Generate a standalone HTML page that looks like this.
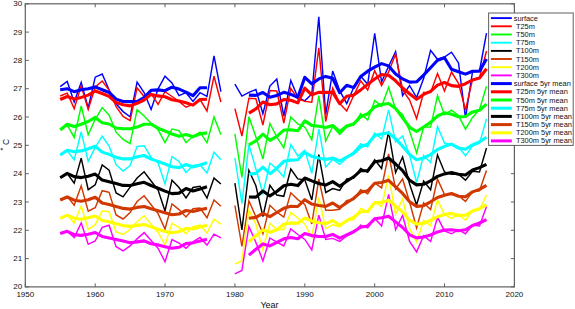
<!DOCTYPE html>
<html><head><meta charset="utf-8"><style>
html,body{margin:0;padding:0;background:#fff;}
svg{display:block;font-family:"Liberation Sans",sans-serif;}
</style></head><body>
<svg width="575" height="309" viewBox="0 0 575 309">
<rect width="575" height="309" fill="#fff"/>
<g>
<polyline points="60.2,86.7 67.2,81.4 74.2,102.0 81.2,82.4 88.2,108.0 95.2,77.2 102.2,74.0 109.1,90.0 116.1,103.8 123.1,111.6 130.1,116.8 137.1,82.2 144.1,92.5 151.1,109.5 158.1,88.8 165.0,76.2 172.0,83.0 179.0,95.6 186.0,92.7 193.0,101.4 200.0,92.7 207.0,96.5 214.0,55.8 220.9,91.7" stroke="#0000ff" stroke-width="1.45" fill="none"/>
<polyline points="234.9,84.1 241.9,96.1 248.9,92.4 255.9,89.5 262.9,113.7 269.9,86.0 276.8,79.0 283.8,116.0 290.8,80.4 297.8,97.3 304.8,100.8 311.8,94.0 318.8,16.8 325.7,114.7 332.7,71.0 339.7,90.7 346.7,103.6 353.7,87.5 360.7,76.3 367.7,84.3 374.7,33.3 381.6,82.0 388.6,66.2 395.6,51.6 402.6,95.5 409.6,85.5 416.6,97.5 423.6,78.6 430.6,50.3 437.5,59.3 444.5,57.0 451.5,52.2 458.5,62.9 465.5,118.0 472.5,72.0 479.5,71.0 486.5,33.2" stroke="#0000ff" stroke-width="1.45" fill="none"/>
<polyline points="60.2,96.0 67.2,93.2 74.2,108.6 81.2,85.9 88.2,109.4 95.2,87.0 102.2,81.0 109.1,90.0 116.1,106.7 123.1,116.4 130.1,120.6 137.1,87.8 144.1,96.5 151.1,93.6 158.1,104.3 165.0,91.7 172.0,96.5 179.0,101.4 186.0,107.2 193.0,104.3 200.0,99.5 207.0,111.0 214.0,76.2 220.9,102.0" stroke="#ff0000" stroke-width="1.45" fill="none"/>
<polyline points="234.9,108.6 241.9,136.0 248.9,98.2 255.9,98.7 262.9,125.0 269.9,90.5 276.8,91.0 283.8,123.0 290.8,88.4 297.8,99.0 304.8,101.4 311.8,102.2 318.8,47.9 325.7,121.5 332.7,88.0 339.7,103.6 346.7,111.0 353.7,95.5 360.7,80.9 367.7,90.0 374.7,70.7 381.6,85.5 388.6,71.9 395.6,54.0 402.6,90.0 409.6,100.0 416.6,118.6 423.6,92.5 430.6,92.5 437.5,73.5 444.5,91.0 451.5,72.0 458.5,83.4 465.5,110.0 472.5,79.5 479.5,77.7 486.5,51.0" stroke="#ff0000" stroke-width="1.45" fill="none"/>
<polyline points="60.2,129.0 67.2,125.0 74.2,137.4 81.2,106.0 88.2,134.7 95.2,119.3 102.2,107.6 109.1,115.2 116.1,132.2 123.1,139.5 130.1,143.6 137.1,109.6 144.1,116.0 151.1,123.3 158.1,129.8 165.0,142.7 172.0,129.0 179.0,130.6 186.0,142.7 193.0,136.3 200.0,132.2 207.0,142.7 214.0,116.9 220.9,134.7" stroke="#00ff00" stroke-width="1.45" fill="none"/>
<polyline points="234.9,133.8 241.9,177.5 248.9,116.7 255.9,137.0 262.9,159.0 269.9,123.5 276.8,137.0 283.8,148.0 290.8,117.0 297.8,124.0 304.8,127.0 311.8,139.7 318.8,95.7 325.7,141.0 332.7,126.5 339.7,134.5 346.7,127.0 353.7,125.0 360.7,113.7 367.7,120.0 374.7,100.5 381.6,106.4 388.6,87.3 395.6,109.0 402.6,114.5 409.6,131.0 416.6,153.0 423.6,127.0 430.6,127.1 437.5,95.7 444.5,114.7 451.5,110.2 458.5,115.6 465.5,129.2 472.5,117.4 479.5,109.4 486.5,86.2" stroke="#00ff00" stroke-width="1.45" fill="none"/>
<polyline points="60.2,155.0 67.2,150.9 74.2,159.8 81.2,131.8 88.2,161.4 95.2,147.7 102.2,136.0 109.1,146.0 116.1,164.7 123.1,171.1 130.1,165.5 137.1,146.5 144.1,145.7 151.1,157.4 158.1,163.0 165.0,184.0 172.0,156.6 179.0,161.4 186.0,172.5 193.0,165.5 200.0,164.7 207.0,173.0 214.0,152.2 220.9,159.8" stroke="#00ffff" stroke-width="1.45" fill="none"/>
<polyline points="234.9,158.0 241.9,203.5 248.9,144.6 255.9,169.0 262.9,193.3 269.9,163.0 276.8,169.0 283.8,176.9 290.8,144.5 297.8,156.0 304.8,150.2 311.8,173.4 318.8,129.0 325.7,167.0 332.7,159.4 339.7,164.3 346.7,158.0 353.7,151.7 360.7,143.9 367.7,146.8 374.7,133.2 381.6,139.0 388.6,109.9 395.6,142.0 402.6,136.0 409.6,155.0 416.6,182.5 423.6,155.5 430.6,162.6 437.5,126.6 444.5,143.1 451.5,144.1 458.5,147.0 465.5,155.8 472.5,146.0 479.5,143.1 486.5,118.9" stroke="#00ffff" stroke-width="1.45" fill="none"/>
<polyline points="60.2,177.5 67.2,173.5 74.2,183.2 81.2,158.1 88.2,189.7 95.2,184.8 102.2,164.9 109.1,170.2 116.1,192.9 123.1,196.9 130.1,187.2 137.1,178.0 144.1,171.8 151.1,181.0 158.1,190.0 165.0,211.0 172.0,180.2 179.0,187.5 186.0,198.0 193.0,187.5 200.0,186.2 207.0,198.0 214.0,178.1 220.9,184.0" stroke="#000000" stroke-width="1.45" fill="none"/>
<polyline points="234.9,183.2 241.9,230.0 248.9,170.5 255.9,185.8 262.9,216.5 269.9,185.3 276.8,195.0 283.8,196.3 290.8,169.0 297.8,178.9 304.8,179.8 311.8,200.0 318.8,154.6 325.7,192.5 332.7,188.6 339.7,190.5 346.7,179.0 353.7,178.0 360.7,168.5 367.7,172.3 374.7,159.7 381.6,168.5 388.6,131.5 395.6,172.5 402.6,157.0 409.6,184.0 416.6,205.0 423.6,181.0 430.6,189.8 437.5,154.9 444.5,172.0 451.5,174.3 458.5,174.3 465.5,180.1 472.5,171.3 479.5,172.0 486.5,148.0" stroke="#000000" stroke-width="1.45" fill="none"/>
<polyline points="60.2,199.6 67.2,196.3 74.2,205.2 81.2,185.8 88.2,211.2 95.2,207.7 102.2,190.7 109.1,192.3 116.1,215.0 123.1,219.0 130.1,212.5 137.1,201.5 144.1,195.8 151.1,204.7 158.1,213.6 165.0,229.0 172.0,203.9 179.0,209.6 186.0,216.9 193.0,208.8 200.0,208.0 207.0,217.7 214.0,199.9 220.9,206.3" stroke="#d03800" stroke-width="1.45" fill="none"/>
<polyline points="234.9,205.5 241.9,246.5 248.9,200.8 255.9,216.8 262.9,233.7 269.9,205.3 276.8,212.0 283.8,217.1 290.8,192.8 297.8,199.6 304.8,204.5 311.8,223.9 318.8,179.0 325.7,210.3 332.7,210.3 339.7,209.3 346.7,200.5 353.7,199.6 360.7,189.8 367.7,193.7 374.7,183.0 381.6,187.9 388.6,153.9 395.6,189.0 402.6,179.0 409.6,202.0 416.6,228.0 423.6,202.8 430.6,209.6 437.5,179.1 444.5,194.6 451.5,194.6 458.5,195.6 465.5,201.4 472.5,191.7 479.5,190.8 486.5,170.4" stroke="#d03800" stroke-width="1.45" fill="none"/>
<polyline points="60.2,218.2 67.2,215.0 74.2,223.0 81.2,206.0 88.2,229.5 95.2,224.7 102.2,210.9 109.1,211.7 116.1,232.0 123.1,234.4 130.1,229.5 137.1,221.7 144.1,215.7 151.1,224.1 158.1,232.2 165.0,245.0 172.0,223.3 179.0,227.4 186.0,233.8 193.0,226.6 200.0,225.0 207.0,233.0 214.0,219.0 220.9,224.1" stroke="#ffff00" stroke-width="1.45" fill="none"/>
<polyline points="234.9,264.0 241.9,261.0 248.9,210.0 255.9,224.2 262.9,250.0 269.9,223.2 276.8,229.5 283.8,229.5 290.8,212.4 297.8,218.0 304.8,223.9 311.8,237.5 318.8,197.6 325.7,228.7 332.7,224.8 339.7,226.8 346.7,220.5 353.7,219.5 360.7,208.5 367.7,211.4 374.7,201.7 381.6,206.5 388.6,175.3 395.6,214.3 402.6,198.7 409.6,228.9 416.6,242.0 423.6,220.2 430.6,226.0 437.5,199.9 444.5,214.4 451.5,218.3 458.5,214.4 465.5,220.2 472.5,210.5 479.5,209.6 486.5,195.0" stroke="#ffff00" stroke-width="1.45" fill="none"/>
<polyline points="60.2,233.0 67.2,231.3 74.2,237.5 81.2,222.9 88.2,244.3 95.2,241.0 102.2,227.3 109.1,225.2 116.1,246.7 123.1,250.8 130.1,245.9 137.1,238.9 144.1,232.6 151.1,240.6 158.1,248.3 165.0,261.8 172.0,239.6 179.0,243.0 186.0,248.3 193.0,241.9 200.0,237.5 207.0,245.1 214.0,234.2 220.9,237.8" stroke="#ff00ff" stroke-width="1.45" fill="none"/>
<polyline points="234.9,273.9 241.9,270.5 248.9,226.5 255.9,242.4 262.9,261.0 269.9,238.0 276.8,242.1 283.8,246.0 290.8,229.0 297.8,234.5 304.8,239.4 311.8,250.0 318.8,215.1 325.7,239.4 332.7,238.4 339.7,241.3 346.7,236.0 353.7,232.7 360.7,225.0 367.7,227.9 374.7,218.2 381.6,225.9 388.6,194.3 395.6,229.8 402.6,215.3 409.6,241.5 416.6,252.0 423.6,235.8 430.6,241.6 437.5,217.3 444.5,230.9 451.5,233.8 458.5,229.9 465.5,233.8 472.5,225.1 479.5,226.0 486.5,206.6" stroke="#ff00ff" stroke-width="1.45" fill="none"/>
<polyline points="60.2,89.8 67.2,88.7 74.2,91.7 81.2,89.7 88.2,88.7 95.2,86.9 102.2,89.8 109.1,92.5 116.1,99.1 123.1,101.5 130.1,101.6 137.1,101.5 144.1,97.5 151.1,90.3 158.1,89.9 165.0,90.7 172.0,87.2 179.0,89.1 186.0,92.1 193.0,95.7 200.0,87.8 207.0,87.7" stroke="#0000ff" stroke-width="3.1" fill="none" stroke-linejoin="round"/>
<polyline points="248.9,95.1 255.9,95.4 262.9,92.5 269.9,97.2 276.8,95.4 283.8,92.3 290.8,94.3 297.8,97.4 304.8,77.3 311.8,83.9 318.8,78.9 325.7,76.4 332.7,78.3 339.7,92.7 346.7,85.2 353.7,87.6 360.7,76.5 367.7,71.2 374.7,67.1 381.6,63.6 388.6,65.9 395.6,73.9 402.6,78.9 409.6,82.1 416.6,81.8 423.6,75.1 430.6,67.8 437.5,60.3 444.5,57.8 451.5,69.3 458.5,71.8 465.5,74.1 472.5,71.3 479.5,71.1 486.5,58.9" stroke="#0000ff" stroke-width="3.1" fill="none" stroke-linejoin="round"/>
<polyline points="60.2,99.5 67.2,96.5 74.2,98.9 81.2,97.4 88.2,95.1 95.2,91.0 102.2,93.5 109.1,96.4 116.1,102.6 123.1,104.8 130.1,105.9 137.1,103.3 144.1,100.0 151.1,94.4 158.1,95.9 165.0,96.8 172.0,99.7 179.0,101.0 186.0,102.8 193.0,105.1 200.0,99.5 207.0,99.2" stroke="#ff0000" stroke-width="3.1" fill="none" stroke-linejoin="round"/>
<polyline points="248.9,113.1 255.9,108.9 262.9,102.0 269.9,104.8 276.8,103.9 283.8,99.5 290.8,100.3 297.8,102.9 304.8,88.2 311.8,94.8 318.8,92.4 325.7,92.3 332.7,92.4 339.7,103.7 346.7,96.2 353.7,95.1 360.7,89.9 367.7,84.4 374.7,79.0 381.6,74.5 388.6,75.3 395.6,80.8 402.6,88.0 409.6,93.8 416.6,99.3 423.6,94.4 430.6,91.4 437.5,85.1 444.5,82.5 451.5,85.6 458.5,86.4 465.5,83.7 472.5,80.0 479.5,78.1 486.5,68.8" stroke="#ff0000" stroke-width="3.1" fill="none" stroke-linejoin="round"/>
<polyline points="60.2,130.0 67.2,124.2 74.2,126.5 81.2,124.2 88.2,121.5 95.2,117.4 102.2,122.8 109.1,124.0 116.1,128.0 123.1,128.7 130.1,128.8 137.1,127.1 144.1,124.2 151.1,124.2 158.1,128.2 165.0,131.0 172.0,134.1 179.0,136.3 186.0,134.5 193.0,136.8 200.0,133.9 207.0,132.9" stroke="#00ff00" stroke-width="3.1" fill="none" stroke-linejoin="round"/>
<polyline points="248.9,144.8 255.9,140.8 262.9,134.1 269.9,140.3 276.8,136.3 283.8,130.1 290.8,129.8 297.8,130.8 304.8,120.9 311.8,125.4 318.8,126.3 325.7,127.5 332.7,125.5 339.7,131.7 346.7,126.0 353.7,123.9 360.7,116.7 367.7,113.8 374.7,106.8 381.6,104.5 388.6,103.5 395.6,108.4 402.6,117.9 409.6,127.3 416.6,131.5 423.6,127.0 430.6,122.3 437.5,116.0 444.5,112.8 451.5,114.2 458.5,116.8 465.5,116.5 472.5,111.9 479.5,110.3 486.5,104.1" stroke="#00ff00" stroke-width="3.1" fill="none" stroke-linejoin="round"/>
<polyline points="60.2,155.1 67.2,150.2 74.2,151.7 81.2,150.9 88.2,148.7 95.2,146.2 102.2,152.1 109.1,154.4 116.1,157.2 123.1,158.9 130.1,158.9 137.1,156.8 144.1,155.5 151.1,159.1 158.1,161.4 165.0,164.0 172.0,166.7 179.0,167.6 186.0,164.5 193.0,167.0 200.0,165.0 207.0,162.7" stroke="#00ffff" stroke-width="3.1" fill="none" stroke-linejoin="round"/>
<polyline points="248.9,174.3 255.9,173.4 262.9,167.2 269.9,173.7 276.8,168.4 283.8,161.3 290.8,160.1 297.8,159.8 304.8,152.3 311.8,156.4 318.8,158.0 325.7,159.4 332.7,157.9 339.7,161.0 346.7,157.2 353.7,153.4 360.7,146.8 367.7,144.2 374.7,135.6 381.6,134.1 388.6,132.8 395.6,138.9 402.6,146.3 409.6,154.4 416.6,159.8 423.6,158.0 430.6,154.6 437.5,149.5 444.5,146.3 451.5,144.1 458.5,148.1 465.5,149.2 472.5,144.8 479.5,141.8 486.5,137.3" stroke="#00ffff" stroke-width="3.1" fill="none" stroke-linejoin="round"/>
<polyline points="60.2,177.7 67.2,173.4 74.2,176.6 81.2,177.6 88.2,176.2 95.2,174.1 102.2,180.1 109.1,181.7 116.1,183.5 123.1,185.4 130.1,185.5 137.1,183.7 144.1,182.3 151.1,185.5 158.1,188.2 165.0,191.1 172.0,193.6 179.0,193.1 186.0,188.5 193.0,191.0 200.0,189.0 207.0,186.7" stroke="#000000" stroke-width="3.1" fill="none" stroke-linejoin="round"/>
<polyline points="248.9,197.0 255.9,197.1 262.9,191.0 269.9,195.9 276.8,191.5 283.8,185.7 290.8,184.3 297.8,185.6 304.8,178.0 311.8,180.9 318.8,183.5 325.7,185.1 332.7,181.6 339.7,186.3 346.7,181.3 353.7,176.8 360.7,170.7 367.7,170.8 374.7,161.8 381.6,160.8 388.6,158.0 395.6,164.0 402.6,170.7 409.6,180.3 416.6,184.9 423.6,184.3 430.6,180.9 437.5,176.4 444.5,173.9 451.5,172.6 458.5,174.3 465.5,175.0 472.5,170.0 479.5,167.6 486.5,164.3" stroke="#000000" stroke-width="3.1" fill="none" stroke-linejoin="round"/>
<polyline points="60.2,200.0 67.2,197.0 74.2,200.2 81.2,201.2 88.2,199.8 95.2,197.2 102.2,203.0 109.1,204.6 116.1,206.6 123.1,208.4 130.1,209.1 137.1,207.4 144.1,206.5 151.1,208.8 158.1,210.7 165.0,212.8 172.0,214.7 179.0,214.0 186.0,210.5 193.0,211.5 200.0,209.8 207.0,208.3" stroke="#d03800" stroke-width="3.1" fill="none" stroke-linejoin="round"/>
<polyline points="248.9,218.3 255.9,217.4 262.9,213.3 269.9,216.6 276.8,212.5 283.8,208.3 290.8,206.2 297.8,206.5 304.8,199.7 311.8,204.1 318.8,205.5 325.7,206.4 332.7,203.0 339.7,207.6 346.7,202.7 353.7,198.2 360.7,192.3 367.7,190.8 374.7,183.3 381.6,182.5 388.6,180.3 395.6,186.9 402.6,193.4 409.6,201.8 416.6,206.4 423.6,205.7 430.6,201.8 437.5,197.5 444.5,195.3 451.5,193.5 458.5,196.3 465.5,196.7 472.5,191.9 479.5,189.4 486.5,185.4" stroke="#d03800" stroke-width="3.1" fill="none" stroke-linejoin="round"/>
<polyline points="60.2,218.4 67.2,215.2 74.2,218.2 81.2,219.2 88.2,217.8 95.2,216.0 102.2,220.4 109.1,221.8 116.1,223.8 123.1,225.6 130.1,226.4 137.1,225.4 144.1,224.5 151.1,226.9 158.1,229.3 165.0,231.4 172.0,232.8 179.0,231.7 186.0,228.5 193.0,229.0 200.0,226.9 207.0,225.2" stroke="#ffff00" stroke-width="3.1" fill="none" stroke-linejoin="round"/>
<polyline points="248.9,241.8 255.9,235.7 262.9,230.1 269.9,232.3 276.8,229.8 283.8,224.3 290.8,222.9 297.8,223.3 304.8,218.0 311.8,221.0 318.8,222.8 325.7,223.7 332.7,220.5 339.7,225.3 346.7,220.7 353.7,217.2 360.7,211.7 367.7,211.5 374.7,202.7 381.6,202.4 388.6,200.3 395.6,206.0 402.6,212.2 409.6,220.2 416.6,224.1 423.6,223.2 430.6,220.3 437.5,216.8 444.5,214.5 451.5,213.4 458.5,215.4 465.5,215.2 472.5,211.0 479.5,208.7 486.5,204.8" stroke="#ffff00" stroke-width="3.1" fill="none" stroke-linejoin="round"/>
<polyline points="60.2,233.5 67.2,231.3 74.2,234.6 81.2,235.4 88.2,234.3 95.2,232.5 102.2,236.4 109.1,237.9 116.1,239.5 123.1,241.1 130.1,242.8 137.1,241.9 144.1,240.9 151.1,243.8 158.1,244.9 165.0,246.7 172.0,248.3 179.0,247.3 186.0,243.6 193.0,242.8 200.0,240.9 207.0,239.2" stroke="#ff00ff" stroke-width="3.1" fill="none" stroke-linejoin="round"/>
<polyline points="248.9,255.1 255.9,249.3 262.9,243.9 269.9,245.9 276.8,242.4 283.8,238.8 290.8,237.5 297.8,238.7 304.8,233.6 311.8,235.6 318.8,236.5 325.7,236.6 332.7,234.4 339.7,238.1 346.7,234.9 353.7,231.6 360.7,227.2 367.7,225.9 374.7,218.8 381.6,217.8 388.6,216.3 395.6,221.9 402.6,227.5 409.6,234.8 416.6,237.9 423.6,237.0 430.6,235.0 437.5,231.9 444.5,230.1 451.5,229.7 458.5,230.8 465.5,229.8 472.5,225.5 479.5,223.0 486.5,219.6" stroke="#ff00ff" stroke-width="3.1" fill="none" stroke-linejoin="round"/>
</g>
<g>
<rect x="25.3" y="3.8" width="489.1" height="283.1" fill="none" stroke="#606060" stroke-width="1.2"/>
<line x1="25.3" y1="286.9" x2="25.3" y2="283.4" stroke="#606060" stroke-width="1"/>
<line x1="25.3" y1="3.8" x2="25.3" y2="7.3" stroke="#606060" stroke-width="1"/>
<line x1="95.2" y1="286.9" x2="95.2" y2="283.4" stroke="#606060" stroke-width="1"/>
<line x1="95.2" y1="3.8" x2="95.2" y2="7.3" stroke="#606060" stroke-width="1"/>
<line x1="165.0" y1="286.9" x2="165.0" y2="283.4" stroke="#606060" stroke-width="1"/>
<line x1="165.0" y1="3.8" x2="165.0" y2="7.3" stroke="#606060" stroke-width="1"/>
<line x1="234.9" y1="286.9" x2="234.9" y2="283.4" stroke="#606060" stroke-width="1"/>
<line x1="234.9" y1="3.8" x2="234.9" y2="7.3" stroke="#606060" stroke-width="1"/>
<line x1="304.8" y1="286.9" x2="304.8" y2="283.4" stroke="#606060" stroke-width="1"/>
<line x1="304.8" y1="3.8" x2="304.8" y2="7.3" stroke="#606060" stroke-width="1"/>
<line x1="374.7" y1="286.9" x2="374.7" y2="283.4" stroke="#606060" stroke-width="1"/>
<line x1="374.7" y1="3.8" x2="374.7" y2="7.3" stroke="#606060" stroke-width="1"/>
<line x1="444.5" y1="286.9" x2="444.5" y2="283.4" stroke="#606060" stroke-width="1"/>
<line x1="444.5" y1="3.8" x2="444.5" y2="7.3" stroke="#606060" stroke-width="1"/>
<line x1="514.4" y1="286.9" x2="514.4" y2="283.4" stroke="#606060" stroke-width="1"/>
<line x1="514.4" y1="3.8" x2="514.4" y2="7.3" stroke="#606060" stroke-width="1"/>
<line x1="25.3" y1="286.9" x2="28.8" y2="286.9" stroke="#606060" stroke-width="1"/>
<line x1="514.4" y1="286.9" x2="510.9" y2="286.9" stroke="#606060" stroke-width="1"/>
<line x1="25.3" y1="258.6" x2="28.8" y2="258.6" stroke="#606060" stroke-width="1"/>
<line x1="514.4" y1="258.6" x2="510.9" y2="258.6" stroke="#606060" stroke-width="1"/>
<line x1="25.3" y1="230.3" x2="28.8" y2="230.3" stroke="#606060" stroke-width="1"/>
<line x1="514.4" y1="230.3" x2="510.9" y2="230.3" stroke="#606060" stroke-width="1"/>
<line x1="25.3" y1="202.0" x2="28.8" y2="202.0" stroke="#606060" stroke-width="1"/>
<line x1="514.4" y1="202.0" x2="510.9" y2="202.0" stroke="#606060" stroke-width="1"/>
<line x1="25.3" y1="173.7" x2="28.8" y2="173.7" stroke="#606060" stroke-width="1"/>
<line x1="514.4" y1="173.7" x2="510.9" y2="173.7" stroke="#606060" stroke-width="1"/>
<line x1="25.3" y1="145.3" x2="28.8" y2="145.3" stroke="#606060" stroke-width="1"/>
<line x1="514.4" y1="145.3" x2="510.9" y2="145.3" stroke="#606060" stroke-width="1"/>
<line x1="25.3" y1="117.0" x2="28.8" y2="117.0" stroke="#606060" stroke-width="1"/>
<line x1="514.4" y1="117.0" x2="510.9" y2="117.0" stroke="#606060" stroke-width="1"/>
<line x1="25.3" y1="88.7" x2="28.8" y2="88.7" stroke="#606060" stroke-width="1"/>
<line x1="514.4" y1="88.7" x2="510.9" y2="88.7" stroke="#606060" stroke-width="1"/>
<line x1="25.3" y1="60.4" x2="28.8" y2="60.4" stroke="#606060" stroke-width="1"/>
<line x1="514.4" y1="60.4" x2="510.9" y2="60.4" stroke="#606060" stroke-width="1"/>
<line x1="25.3" y1="32.1" x2="28.8" y2="32.1" stroke="#606060" stroke-width="1"/>
<line x1="514.4" y1="32.1" x2="510.9" y2="32.1" stroke="#606060" stroke-width="1"/>
<line x1="25.3" y1="3.8" x2="28.8" y2="3.8" stroke="#606060" stroke-width="1"/>
<line x1="514.4" y1="3.8" x2="510.9" y2="3.8" stroke="#606060" stroke-width="1"/>
<text x="22.2" y="289.4" text-anchor="end" font-size="8" fill="#101010">20</text>
<text x="22.2" y="261.1" text-anchor="end" font-size="8" fill="#101010">21</text>
<text x="22.2" y="232.8" text-anchor="end" font-size="8" fill="#101010">22</text>
<text x="22.2" y="204.5" text-anchor="end" font-size="8" fill="#101010">23</text>
<text x="22.2" y="176.2" text-anchor="end" font-size="8" fill="#101010">24</text>
<text x="22.2" y="147.8" text-anchor="end" font-size="8" fill="#101010">25</text>
<text x="22.2" y="119.5" text-anchor="end" font-size="8" fill="#101010">26</text>
<text x="22.2" y="91.2" text-anchor="end" font-size="8" fill="#101010">27</text>
<text x="22.2" y="62.9" text-anchor="end" font-size="8" fill="#101010">28</text>
<text x="22.2" y="34.6" text-anchor="end" font-size="8" fill="#101010">29</text>
<text x="22.2" y="6.3" text-anchor="end" font-size="8" fill="#101010">30</text>
<text x="25.3" y="297.2" text-anchor="middle" font-size="8" fill="#101010">1950</text>
<text x="95.2" y="297.2" text-anchor="middle" font-size="8" fill="#101010">1960</text>
<text x="165.0" y="297.2" text-anchor="middle" font-size="8" fill="#101010">1970</text>
<text x="234.9" y="297.2" text-anchor="middle" font-size="8" fill="#101010">1980</text>
<text x="304.8" y="297.2" text-anchor="middle" font-size="8" fill="#101010">1990</text>
<text x="374.7" y="297.2" text-anchor="middle" font-size="8" fill="#101010">2000</text>
<text x="444.5" y="297.2" text-anchor="middle" font-size="8" fill="#101010">2010</text>
<text x="514.4" y="297.2" text-anchor="middle" font-size="8" fill="#101010">2020</text>
<text x="269.5" y="307.5" text-anchor="middle" font-size="9" fill="#101010">Year</text>
<text transform="translate(9.4,142) rotate(-90)" text-anchor="middle" font-size="8.5" fill="#101010">C</text>
<circle cx="1.7" cy="149.1" r="0.8" fill="none" stroke="#101010" stroke-width="0.7"/>
</g>
<g>
<rect x="488.6" y="13.0" width="84.6" height="132.4" fill="#fff" stroke="#606060" stroke-width="1"/>
<line x1="490.9" y1="18.1" x2="511.8" y2="18.1" stroke="#0000ff" stroke-width="1.9"/>
<text x="513.7" y="20.6" font-size="7.4" fill="#101010">surface</text>
<line x1="490.9" y1="26.3" x2="511.8" y2="26.3" stroke="#ff0000" stroke-width="1.9"/>
<text x="516.0" y="28.8" font-size="7.4" fill="#101010">T25m</text>
<line x1="490.9" y1="34.5" x2="511.8" y2="34.5" stroke="#00ff00" stroke-width="1.9"/>
<text x="516.0" y="37.0" font-size="7.4" fill="#101010">T50m</text>
<line x1="490.9" y1="42.7" x2="511.8" y2="42.7" stroke="#00ffff" stroke-width="1.9"/>
<text x="516.0" y="45.2" font-size="7.4" fill="#101010">T75m</text>
<line x1="490.9" y1="50.9" x2="511.8" y2="50.9" stroke="#000000" stroke-width="1.9"/>
<text x="516.0" y="53.4" font-size="7.4" fill="#101010">T100m</text>
<line x1="490.9" y1="59.0" x2="511.8" y2="59.0" stroke="#d03800" stroke-width="1.9"/>
<text x="516.0" y="61.5" font-size="7.4" fill="#101010">T150m</text>
<line x1="490.9" y1="67.2" x2="511.8" y2="67.2" stroke="#ffff00" stroke-width="1.9"/>
<text x="516.0" y="69.7" font-size="7.4" fill="#101010">T200m</text>
<line x1="490.9" y1="75.4" x2="511.8" y2="75.4" stroke="#ff00ff" stroke-width="1.9"/>
<text x="516.0" y="77.9" font-size="7.4" fill="#101010">T300m</text>
<line x1="490.9" y1="83.6" x2="511.8" y2="83.6" stroke="#0000ff" stroke-width="3.0"/>
<text x="513.7" y="86.1" font-size="7.4" fill="#101010">surface 5yr mean</text>
<line x1="490.9" y1="91.8" x2="511.8" y2="91.8" stroke="#ff0000" stroke-width="3.0"/>
<text x="516.0" y="94.3" font-size="7.4" fill="#101010">T25m 5yr mean</text>
<line x1="490.9" y1="100.0" x2="511.8" y2="100.0" stroke="#00ff00" stroke-width="3.0"/>
<text x="516.0" y="102.5" font-size="7.4" fill="#101010">T50m 5yr mean</text>
<line x1="490.9" y1="108.2" x2="511.8" y2="108.2" stroke="#00ffff" stroke-width="3.0"/>
<text x="516.0" y="110.7" font-size="7.4" fill="#101010">T75m 5yr mean</text>
<line x1="490.9" y1="116.4" x2="511.8" y2="116.4" stroke="#000000" stroke-width="3.0"/>
<text x="516.0" y="118.9" font-size="7.4" fill="#101010">T100m 5yr mean</text>
<line x1="490.9" y1="124.6" x2="511.8" y2="124.6" stroke="#d03800" stroke-width="3.0"/>
<text x="516.0" y="127.1" font-size="7.4" fill="#101010">T150m 5yr mean</text>
<line x1="490.9" y1="132.8" x2="511.8" y2="132.8" stroke="#ffff00" stroke-width="3.0"/>
<text x="516.0" y="135.3" font-size="7.4" fill="#101010">T200m 5yr mean</text>
<line x1="490.9" y1="140.9" x2="511.8" y2="140.9" stroke="#ff00ff" stroke-width="3.0"/>
<text x="516.0" y="143.4" font-size="7.4" fill="#101010">T300m 5yr mean</text>
</g>
</svg>
</body></html>
